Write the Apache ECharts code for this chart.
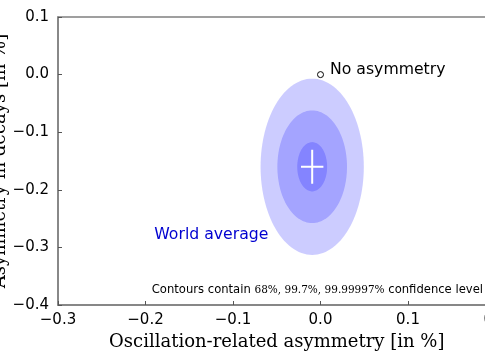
<!DOCTYPE html>
<html><head><meta charset="utf-8">
<script src="https://cdn.jsdelivr.net/npm/echarts@6/dist/echarts.min.js"></script>
<style>html,body{margin:0;padding:0;background:#fff}#c{width:485px;height:360px}</style>
</head><body><div id="c"></div>
<script>
// ---- data ----
const xTicks = [-0.3, -0.2, -0.1, 0.0, 0.1, 0.2];
const yTicks = [-0.4, -0.3, -0.2, -0.1, 0.0, 0.1];
const worldCenter = [-0.0095, -0.16];
const contourRx = [0.059, 0.0398, 0.0171];   // outer, middle, inner half-widths
const contourRy = [0.153, 0.0978, 0.0428];   // outer, middle, inner half-heights
const errX = [0.0128];
const errY = [0.0295];
const noAsymPoint = [0.0, 0.0];
const worldLabelPos = [-0.19, -0.278];
const xName = 'Oscillation-related asymmetry [in %]';
const yName = 'Asymmetry in decays [in %]';

const fmt = v => Math.abs(v) < 1e-9 ? '0.0' : v.toFixed(1).replace('-', '\u2212');
const SANS = 'DejaVu Sans', SERIF = 'DejaVu Serif';

const chart = echarts.init(document.getElementById('c'));
const contourData = contourRx.map((rx, i) => [worldCenter[0], worldCenter[1], rx, contourRy[i]]);

chart.setOption({
  animation: false,
  grid: { left: 58, top: 17, width: 437.5, height: 288, show: true, borderColor: '#808080', borderWidth: 1.5,
    containLabel: false, outerBoundsMode: 'none' },
  xAxis: {
    type: 'value', min: xTicks[0], max: xTicks[xTicks.length - 1], interval: 0.1,
    name: xName, nameLocation: 'middle', nameGap: 28, nameMoveOverlap: false,
    nameTextStyle: { fontFamily: SERIF, fontSize: 18, color: '#000' },
    axisLine: { show: true, onZero: false, lineStyle: { color: '#808080', width: 1.5 } },
    axisTick: { show: true, inside: true, length: 4, lineStyle: { color: '#555' } },
    axisLabel: { formatter: fmt, fontFamily: SANS, fontSize: 15, color: '#000', margin: 8, showMaxLabel: true, showMinLabel: true },
    splitLine: { show: false }
  },
  yAxis: {
    type: 'value', min: yTicks[0], max: yTicks[yTicks.length - 1], interval: 0.1,
    name: yName, nameLocation: 'middle', nameGap: 49, nameMoveOverlap: false,
    nameTextStyle: { fontFamily: SERIF, fontSize: 18, color: '#000' },
    axisLine: { show: true, onZero: false, lineStyle: { color: '#808080', width: 1.5 } },
    axisTick: { show: true, inside: true, length: 4, lineStyle: { color: '#555' } },
    axisLabel: { formatter: fmt, fontFamily: SANS, fontSize: 15, color: '#000', margin: 9 },
    splitLine: { show: false }
  },
  series: [
    {
      type: 'custom', name: 'contours', data: contourData, clip: true,
      renderItem: (params, api) => {
        const cx = api.value(0), cy = api.value(1), rx = api.value(2), ry = api.value(3);
        const pts = [];
        for (let k = 0; k < 120; k++) {
          const t = k / 120 * Math.PI * 2;
          pts.push(api.coord([cx + rx * Math.cos(t), cy + ry * Math.sin(t)]));
        }
        return { type: 'polygon', shape: { points: pts }, style: { fill: 'rgba(0,0,255,0.2)', stroke: null } };
      }
    },
    {
      type: 'custom', name: 'cross', data: [[worldCenter[0], worldCenter[1], errX[0], errY[0]]],
      renderItem: (params, api) => {
        const cx = api.value(0), cy = api.value(1), ex = api.value(2), ey = api.value(3);
        const a = api.coord([cx - ex, cy]), b = api.coord([cx + ex, cy]);
        const c = api.coord([cx, cy - ey]), d = api.coord([cx, cy + ey]);
        const st = { stroke: '#fff', lineWidth: 2 };
        return { type: 'group', children: [
          { type: 'line', shape: { x1: a[0], y1: a[1], x2: b[0], y2: b[1] }, style: st },
          { type: 'line', shape: { x1: c[0], y1: c[1], x2: d[0], y2: d[1] }, style: st }
        ] };
      }
    },
    {
      type: 'scatter', data: [noAsymPoint], symbol: 'circle', symbolSize: 6,
      itemStyle: { color: '#fff', borderColor: '#000', borderWidth: 1, opacity: 1 },
      label: { show: true, formatter: 'No asymmetry', position: 'right', distance: 6, offset: [0, -5],
        fontFamily: SANS, fontSize: 15.7, color: '#000', opacity: 1 }
    },
    {
      type: 'scatter', data: [worldLabelPos], symbolSize: 0, silent: true,
      itemStyle: { opacity: 1 },
      label: { show: true, formatter: 'World average', position: 'right', distance: 0,
        fontFamily: SANS, fontSize: 15.7, color: '#0000d0', opacity: 1 }
    }
  ],
  graphic: [{
    type: 'text', right: 2, top: 284,
    style: {
      text: '{a|Contours contain }{b|68%, 99.7%, 99.99997%}{a| confidence level}',
      rich: {
        a: { fontFamily: SANS, fontSize: 11.6, fill: '#000' },
        b: { fontFamily: SERIF, fontSize: 10.5, fill: '#000' }
      }
    }
  }]
});
</script></body></html>
